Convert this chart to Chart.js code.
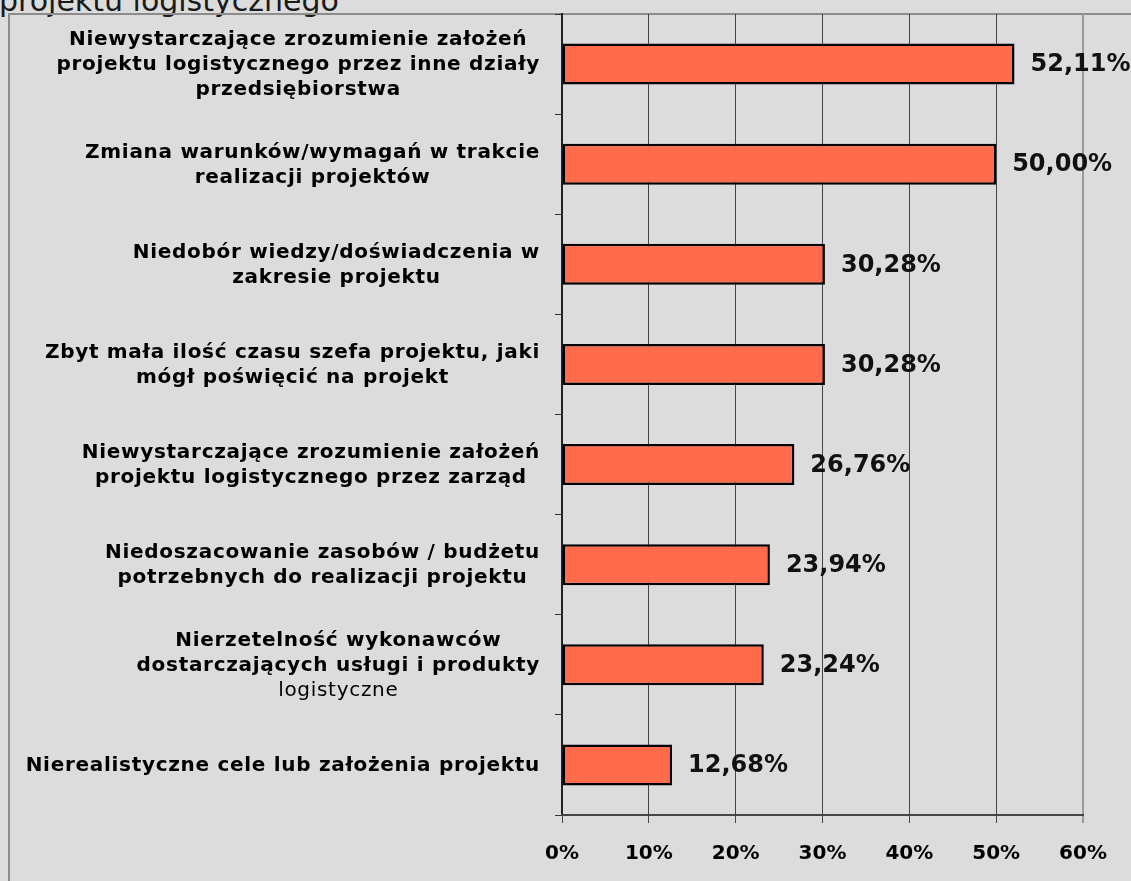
<!DOCTYPE html>
<html>
<head>
<meta charset="utf-8">
<script src="https://cdn.jsdelivr.net/npm/chart.js@4/dist/chart.umd.min.js"></script>
<style>
  html, body { margin: 0; padding: 0; background: #dcdcdc; overflow: hidden; width: 1131px; height: 881px; }
  #title { position: absolute; left: -1px; top: -14px; font: 30px "DejaVu Sans"; line-height: 30px; color: #1a1a1a; white-space: nowrap; }
  #frame { position: absolute; left: 8px; top: 13px; width: 1300px; height: 1000px; border: 2px solid #8c8c8c; box-sizing: border-box; }
  #wrap { position: absolute; left: 0; top: 0; width: 1131px; height: 881px; }
</style>
</head>
<body>
<div id="title">projektu logistycznego</div>
<div id="frame"></div>
<div id="wrap"><canvas id="chart" width="1131" height="881"></canvas></div>
<script>
// Problem categories (each entry = wrapped label lines)
const categories = [
  ["Niewystarczające zrozumienie założeń", "projektu logistycznego przez inne działy", "przedsiębiorstwa"],
  ["Zmiana warunków/wymagań w trakcie", "realizacji projektów"],
  ["Niedobór wiedzy/doświadczenia w", "zakresie projektu"],
  ["Zbyt mała ilość czasu szefa projektu, jaki", "mógł poświęcić na projekt"],
  ["Niewystarczające zrozumienie założeń", "projektu logistycznego przez zarząd"],
  ["Niedoszacowanie zasobów / budżetu", "potrzebnych do realizacji projektu"],
  ["Nierzetelność wykonawców", "dostarczających usługi i produkty", "logistyczne"],
  ["Nierealistyczne cele lub założenia projektu"]
];
// lines set in regular weight: [categoryIndex, lineIndex]
const plainLines = [[6, 2]];

// Share of responses, %
const values = [52.11, 50.00, 30.28, 30.28, 26.76, 23.94, 23.24, 12.68];

// Value axis ticks
const xTicks = [0, 10, 20, 30, 40, 50, 60];

const FONT = '"DejaVu Sans", Verdana, sans-serif';

function fmtPct(v) {
  return v.toFixed(2).replace('.', ',') + '%';
}

// Category labels: each block right-aligned to the axis, its lines centred within the block
const categoryLabels = {
  id: 'categoryLabels',
  afterDraw(chart) {
    const ctx = chart.ctx;
    const y = chart.scales.y;
    const lineH = 25;
    const rightEdge = 540;
    ctx.save();
    ctx.fillStyle = '#000';
    ctx.textBaseline = 'middle';
    ctx.textAlign = 'center';
    ctx.letterSpacing = '0.7px';
    categories.forEach((lines, i) => {
      const fontFor = (j) => {
        const plain = plainLines.some(p => p[0] === i && p[1] === j);
        return (plain ? '' : 'bold ') + '20px ' + FONT;
      };
      let widest = 0;
      lines.forEach((ln, j) => {
        ctx.font = fontFor(j);
        widest = Math.max(widest, ctx.measureText(ln).width);
      });
      const cx = rightEdge - widest / 2;
      const cy = y.getPixelForValue(i);
      const top = cy - (lines.length - 1) * lineH / 2;
      lines.forEach((ln, j) => {
        ctx.font = fontFor(j);
        ctx.fillText(ln, cx, top + j * lineH + 1);
      });
    });
    ctx.restore();
  }
};

// Value labels to the right of every bar
const valueLabels = {
  id: 'valueLabels',
  afterDatasetsDraw(chart) {
    const ctx = chart.ctx;
    const meta = chart.getDatasetMeta(0);
    ctx.save();
    ctx.font = 'bold 24px ' + FONT;
    ctx.fillStyle = '#111';
    ctx.textAlign = 'left';
    ctx.textBaseline = 'middle';
    meta.data.forEach((bar, i) => {
      ctx.fillText(fmtPct(values[i]), bar.x + 16, bar.y + 1);
    });
    ctx.restore();
  }
};

new Chart(document.getElementById('chart'), {
  type: 'bar',
  data: {
    labels: categories.map(c => c.join(' ')),
    datasets: [{
      data: values,
      backgroundColor: '#ff6b4b',
      borderColor: '#000',
      borderWidth: 2.5,
      borderSkipped: false,
      barPercentage: 0.41,
      categoryPercentage: 1.0
    }]
  },
  options: {
    indexAxis: 'y',
    responsive: false,
    animation: false,
    layout: { padding: { top: 14, right: 48, left: 0, bottom: 0 } },
    plugins: {
      legend: { display: false },
      tooltip: { enabled: false },
      title: { display: false }
    },
    scales: {
      y: {
        type: 'category',
        ticks: { display: false },
        grid: {
          offset: true,
          drawOnChartArea: false,
          drawTicks: true,
          tickLength: 7,
          color: '#333',
          lineWidth: 1
        },
        border: { display: true, color: '#222', width: 2 },
        afterFit(scale) { scale.width = 562; }
      },
      x: {
        min: xTicks[0],
        max: xTicks[xTicks.length - 1],
        afterBuildTicks(scale) { scale.ticks = xTicks.map(v => ({ value: v })); },
        ticks: {
          callback: v => v + '%',
          color: '#000',
          font: { family: FONT, size: 20, weight: 'bold' },
          padding: 19,
          maxRotation: 0
        },
        grid: {
          color: ctx => (ctx.index === xTicks.length - 1 ? '#999' : '#444'),
          lineWidth: ctx => (ctx.index === xTicks.length - 1 ? 2 : 1),
          tickLength: 8
        },
        border: { display: true, color: '#444', width: 2 },
        afterFit(scale) { scale.height = 66; }
      }
    }
  },
  plugins: [categoryLabels, valueLabels]
});
</script>
</body>
</html>
